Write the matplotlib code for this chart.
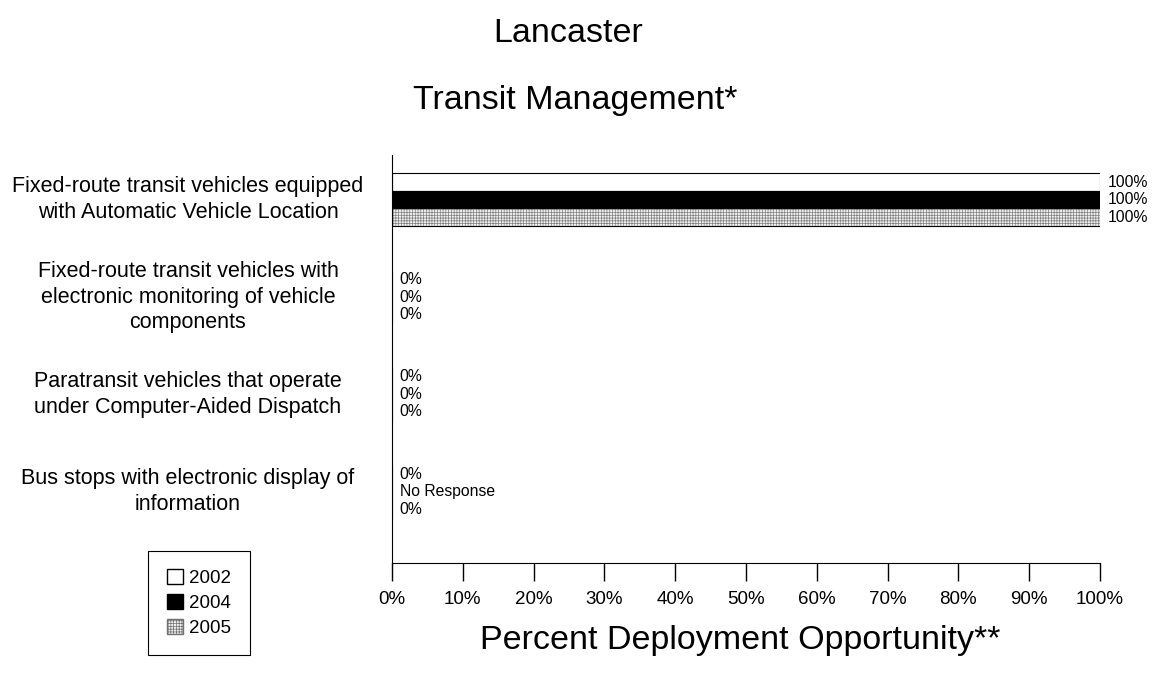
import numpy as np
import matplotlib.pyplot as plt
from matplotlib.patches import Patch
import matplotlib.transforms as mtransforms

plt.rcParams['font.family'] = ['Liberation Sans', 'DejaVu Sans']
plt.rcParams['hatch.linewidth'] = 0.5

categories = [
    "Fixed-route transit vehicles equipped\nwith Automatic Vehicle Location",
    "Fixed-route transit vehicles with\nelectronic monitoring of vehicle\ncomponents",
    "Paratransit vehicles that operate\nunder Computer-Aided Dispatch",
    "Bus stops with electronic display of\ninformation",
]
years = ["2002", "2004", "2005"]
vals_2002 = [100, 0, 0, 0]
vals_2004 = [100, 0, 0, None]
vals_2005 = [100, 0, 0, 0]
series = [vals_2002, vals_2004, vals_2005]
xticks = [0, 10, 20, 30, 40, 50, 60, 70, 80, 90, 100]

fig = plt.figure(figsize=(11.53, 6.73), dpi=100)
ax = fig.add_axes([0.340, 0.1635, 0.614, 0.6065])

ypos = np.arange(len(categories))[::-1].astype(float)
h = 0.18
offsets = [h, 0, -h]

for vals, off, yr in zip(series, offsets, years):
    y = ypos + off
    v = np.array([0 if x is None else x for x in vals], dtype=float)
    if yr == "2002":
        ax.barh(y, v, height=h, color='white', edgecolor='black', linewidth=0.8)
    elif yr == "2004":
        ax.barh(y, v, height=h, color='black', edgecolor='black', linewidth=0.8)
    else:
        ax.barh(y, v, height=h, color='#f0f0f0', edgecolor='#808080', hatch='++++++', linewidth=0)
        ax.barh(y, v, height=h, color='none', edgecolor='black', linewidth=0.8)
    for yy, x in zip(y, vals):
        lab = "No Response" if x is None else f"{x:.0f}%"
        xx = 0 if x is None else x
        ax.text(xx + 1.1, yy, lab, va='center', ha='left', fontsize=11.3)

ax.set_xlim(0, 100)
ax.set_ylim(-0.73, 3.46)
ax.set_xticks(xticks)
ax.set_xticklabels([f"{t}%" for t in xticks], fontsize=13.5)
ax.tick_params(axis='x', direction='out', length=13, width=1, pad=7)
ax.set_yticks([])
for s in ['top', 'right']:
    ax.spines[s].set_visible(False)

trans = mtransforms.blended_transform_factory(fig.transFigure, ax.transData)
for yy, lab in zip(ypos, categories):
    ax.text(188 / 1153, yy, lab, transform=trans, ha='center', va='center',
            fontsize=15.5, linespacing=1.3)

fig.text(568 / 1153, 1 - 33 / 673, "Lancaster", ha='center', va='center', fontsize=24.5)
fig.text(575 / 1153, 1 - 100 / 673, "Transit Management*", ha='center', va='center', fontsize=24.5)
fig.text(740 / 1153, 1 - 640 / 673, "Percent Deployment Opportunity**", ha='center', va='center', fontsize=24.5)

handles = [
    Patch(facecolor='white', edgecolor='black', label='2002'),
    Patch(facecolor='black', edgecolor='black', label='2004'),
    Patch(facecolor='#f0f0f0', edgecolor='#707070', hatch='++++++', label='2005'),
]
leg = fig.legend(handles=handles, loc='center', bbox_to_anchor=(199 / 1153, 1 - 603 / 673),
                 fontsize=13.5, fancybox=False, framealpha=1, edgecolor='black',
                 handlelength=0.85, handleheight=0.85, handletextpad=0.35,
                 labelspacing=0.35, borderpad=1.0)
leg.get_frame().set_linewidth(0.8)

fig.savefig("out.png", dpi=100)
